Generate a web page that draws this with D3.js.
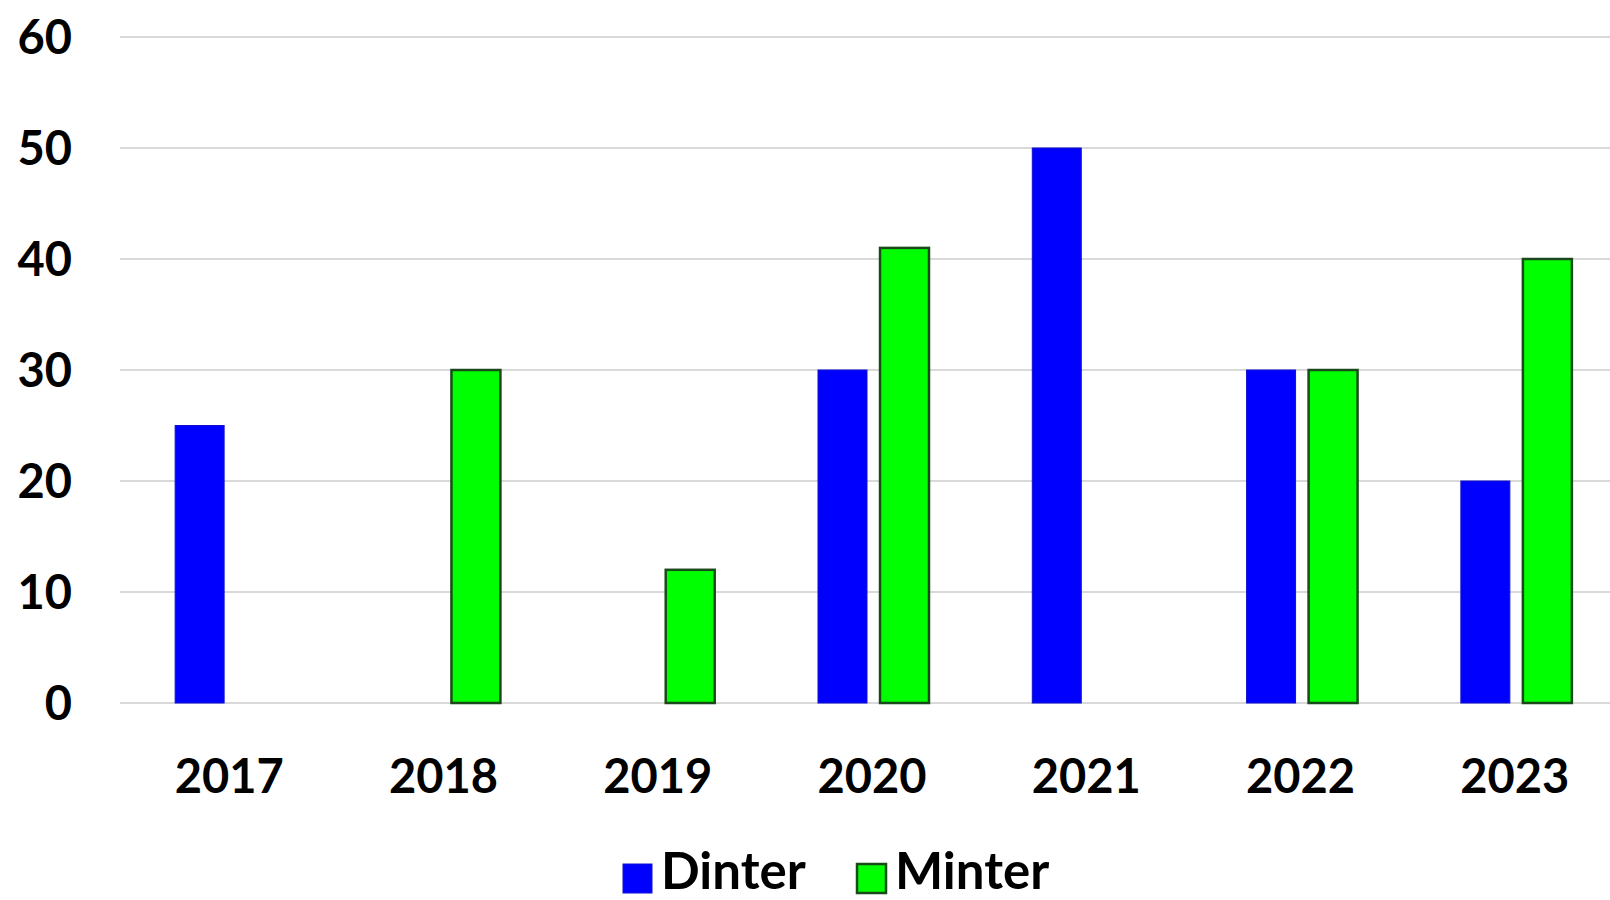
<!DOCTYPE html>
<html><head><meta charset="utf-8">
<script src="https://cdn.jsdelivr.net/npm/d3@7"></script>
<style>html,body{margin:0;padding:0;background:#fff;overflow:hidden}</style>
</head><body>
<svg id="chart" width="1610" height="900"></svg>
<script>
const years = ["2017","2018","2019","2020","2021","2022","2023"];
const seriesNames = ["Dinter","Minter"];
const dinter = [25, 0, 0, 30, 50, 30, 20];
const minter = [0, 30, 12, 41, 0, 30, 40];
const yTicks = [0,10,20,30,40,50,60];
const colors = {Dinter:"#0000ff", Minter:"#00ff00"};
const strokes = {Dinter:"#1010d0", Minter:"#1a4a1a"};
const strokeW = {Dinter:1, Minter:2.5};

const svg = d3.select("#chart");
const font = "Lato, 'Open Sans', sans-serif";

const y = d3.scaleLinear().domain([0,60]).range([703,37]);
const x0 = d3.scaleBand().domain(years).range([122,1622]).padding(0);
const bw = x0.bandwidth();
const x1 = d3.scaleBand().domain(seriesNames).range([bw/2-54, bw/2+57]).paddingInner(0.21);

// gridlines
svg.append("g").selectAll("line").data(yTicks).join("line")
  .attr("x1",120).attr("x2",1610)
  .attr("y1",d=>y(d)).attr("y2",d=>y(d))
  .attr("stroke","#d9d9d9").attr("stroke-width",2);

// y axis labels
const yAxis = d3.axisLeft(y).tickValues(yTicks).tickSize(0).tickPadding(0);
const gy = svg.append("g").attr("transform","translate(72,0)").call(yAxis);
gy.select(".domain").remove();
gy.selectAll("text").attr("font-family",font).attr("font-weight","bold")
  .attr("font-size",47).attr("fill","#000").attr("dy","0.36em");

// bars
const data = years.map((yr,i)=>({year:yr, vals:[{k:"Dinter",v:dinter[i]},{k:"Minter",v:minter[i]}]}));
const groups = svg.append("g").selectAll("g").data(data).join("g")
  .attr("transform",d=>`translate(${x0(d.year)},0)`);
groups.selectAll("rect").data(d=>d.vals.filter(e=>e.v>0)).join("rect")
  .attr("x",d=>x1(d.k)).attr("width",x1.bandwidth())
  .attr("y",d=>y(d.v)).attr("height",d=>y(0)-y(d.v))
  .attr("fill",d=>colors[d.k]).attr("stroke",d=>strokes[d.k]).attr("stroke-width",d=>strokeW[d.k]);

// x axis labels
const xAxis = d3.axisBottom(x0).tickSize(0).tickPadding(0);
const gx = svg.append("g").attr("transform","translate(0,776)").call(xAxis);
gx.select(".domain").remove();
gx.selectAll("text").attr("font-family",font).attr("font-weight","bold")
  .attr("font-size",47).attr("fill","#000").attr("dy","0.36em");

// legend
const legX = [623, 857];
const leg = svg.append("g");
seriesNames.forEach((s,i)=>{
  leg.append("rect").attr("x",legX[i]).attr("y",864).attr("width",29).attr("height",29)
    .attr("fill",colors[s]).attr("stroke",strokes[s]).attr("stroke-width",strokeW[s]);
  leg.append("text").attr("x",legX[i]+38).attr("y",889).text(s)
    .attr("font-family",font).attr("font-weight","bold").attr("font-size",51).attr("fill","#000");
});
</script>
</body></html>
